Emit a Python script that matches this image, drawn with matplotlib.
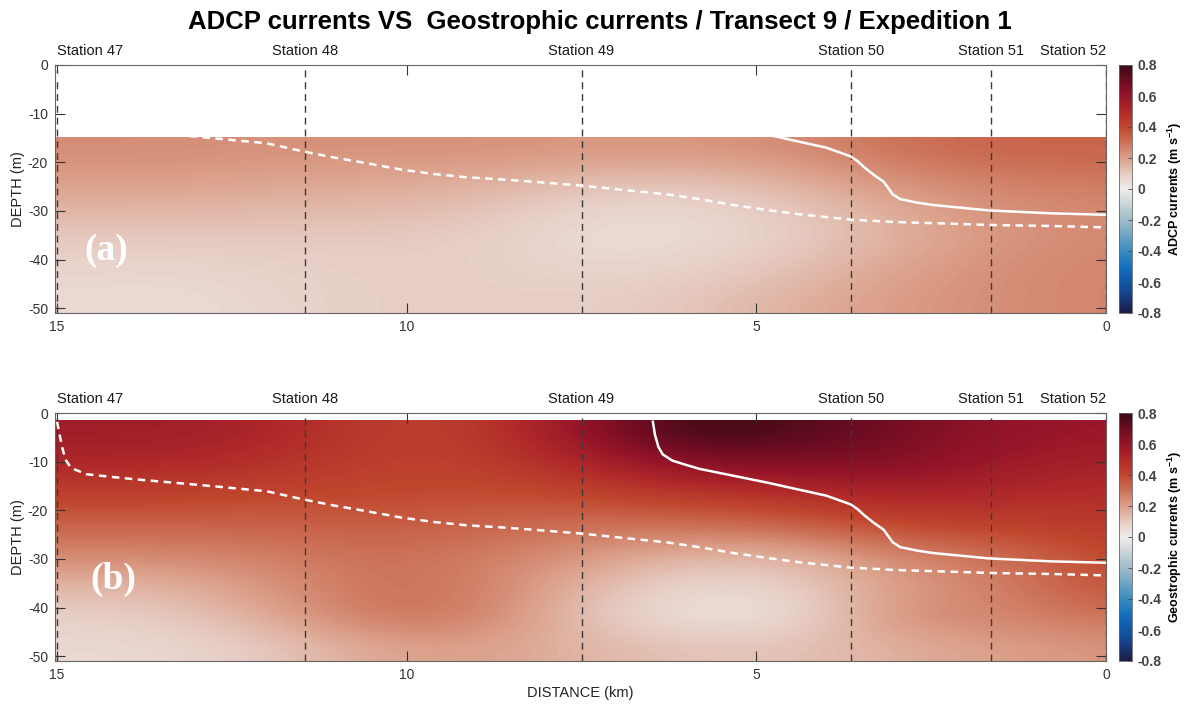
import numpy as np
import matplotlib
matplotlib.use("Agg")
import matplotlib.pyplot as plt
from matplotlib.colors import LinearSegmentedColormap

plt.rcParams["font.family"] = ["Liberation Sans", "DejaVu Sans"]
plt.rcParams["mathtext.fontset"] = "custom"
plt.rcParams["mathtext.rm"] = "Liberation Sans"
plt.rcParams["mathtext.bf"] = "Liberation Sans:bold"

# ---- data -------------------------------------------------------------
title = "ADCP currents VS  Geostrophic currents / Transect 9 / Expedition 1"
station_names = ["Station 47", "Station 48", "Station 49", "Station 50", "Station 51", "Station 52"]
station_km = [15.0, 11.45, 7.5, 3.65, 1.65, 0.0]

# grid columns (km) shared by both sections
distance_cols = [15, 13.5, 12, 10.5, 9, 7.5, 6, 4.5, 3, 1.5, 0]

# ADCP section: rows from -15 m down to -51 m
adcp_top, adcp_bottom = -15.0, -51.0
adcp = [
    [0.24, 0.24, 0.23, 0.23, 0.23, 0.22, 0.22, 0.24, 0.30, 0.33, 0.33],
    [0.20, 0.20, 0.19, 0.18, 0.17, 0.13, 0.12, 0.16, 0.23, 0.27, 0.28],
    [0.15, 0.15, 0.14, 0.14, 0.12, 0.07, 0.06, 0.10, 0.17, 0.23, 0.25],
    [0.10, 0.10, 0.10, 0.10, 0.09, 0.05, 0.05, 0.09, 0.16, 0.22, 0.25],
    [0.07, 0.07, 0.08, 0.09, 0.09, 0.07, 0.08, 0.12, 0.19, 0.24, 0.26],
    [0.06, 0.05, 0.07, 0.09, 0.09, 0.09, 0.11, 0.16, 0.21, 0.24, 0.26],
]

# geostrophic section: rows from -1.6 m down to -51 m
geo_top, geo_bottom = -1.6, -51.0
geo = [
    [0.56, 0.56, 0.52, 0.43, 0.43, 0.60, 0.80, 0.76, 0.68, 0.60, 0.58],
    [0.50, 0.50, 0.47, 0.42, 0.42, 0.50, 0.62, 0.64, 0.64, 0.57, 0.53],
    [0.42, 0.42, 0.40, 0.40, 0.38, 0.40, 0.44, 0.47, 0.52, 0.50, 0.48],
    [0.33, 0.33, 0.33, 0.35, 0.33, 0.30, 0.30, 0.33, 0.40, 0.42, 0.44],
    [0.25, 0.25, 0.27, 0.30, 0.28, 0.22, 0.15, 0.15, 0.25, 0.30, 0.40],
    [0.15, 0.15, 0.22, 0.30, 0.28, 0.15, 0.06, 0.08, 0.20, 0.26, 0.38],
    [0.08, 0.10, 0.17, 0.30, 0.28, 0.12, 0.03, 0.04, 0.24, 0.26, 0.30],
    [0.06, 0.06, 0.10, 0.18, 0.20, 0.15, 0.12, 0.12, 0.16, 0.20, 0.22],
]

# solid white contour
solid_km = [6.48, 6.45, 6.40, 6.34, 6.20, 6.00, 5.81, 5.33, 4.85, 4.38, 4.00,
            3.65, 3.55, 3.46, 3.32, 3.18, 3.12, 3.05, 2.94, 2.70, 2.47, 1.68, 0.80, 0.00]
solid_depth = [-1.8, -4.5, -7.0, -8.5, -9.8, -10.7, -11.5, -12.9, -14.3, -15.8, -17.0,
               -18.8, -19.8, -21.0, -22.6, -24.0, -25.2, -26.6, -27.6, -28.3, -28.8,
               -29.9, -30.5, -30.8]

# dashed white contour
dashed_km = [15.0, 14.97, 14.93, 14.88, 14.80, 14.58, 13.91, 12.96, 12.0, 11.47, 11.05,
             10.57, 10.08, 9.62, 9.14, 8.67, 8.19, 7.50, 6.76, 6.28, 5.81, 5.33, 4.85,
             4.38, 3.65, 3.00, 2.30, 1.65, 0.80, 0.00]
dashed_depth = [-1.8, -4.0, -6.9, -9.6, -11.3, -12.6, -13.6, -14.8, -16.1, -17.8, -19.0,
                -20.2, -21.5, -22.4, -23.1, -23.5, -24.0, -24.8, -25.9, -26.6, -27.6,
                -28.8, -29.8, -30.7, -31.8, -32.3, -32.6, -32.9, -33.1, -33.4]

cbar_ticks = [-0.8, -0.6, -0.4, -0.2, 0.0, 0.2, 0.4, 0.6, 0.8]
cbar_ticklabels = ["-0.8", "-0.6", "-0.4", "-0.2", "0", "0.2", "0.4", "0.6", "0.8"]
x_ticks = [15, 10, 5, 0]
y_ticks = [0, -10, -20, -30, -40, -50]

# diverging red/blue colour ramp
cmap = LinearSegmentedColormap.from_list("redblue", [
    (0.0000, "#1a1c46"), (0.0625, "#183c80"), (0.125, "#1058a8"), (0.1875, "#1470be"),
    (0.2500, "#3a8cc0"), (0.3125, "#6ea4c4"), (0.375, "#a0bcc8"), (0.4375, "#c8d4d8"),
    (0.5000, "#f0ecea"), (0.5625, "#e6cbc2"), (0.625, "#dba08a"), (0.6875, "#cc7258"),
    (0.7500, "#c0472e"), (0.8125, "#b02a2a"), (0.875, "#961428"), (0.9375, "#6e0c22"),
    (1.0000, "#3c0a14"),
])

# ---- figure -----------------------------------------------------------
W, H = 1186, 706
fig = plt.figure(figsize=(W / 100, H / 100), dpi=100)

def frac(px_left, px_top, px_right, px_bottom):
    return [px_left / W, 1 - px_bottom / H, (px_right - px_left) / W, (px_bottom - px_top) / H]

panels = [
    dict(rect=frac(55, 65, 1106, 313), cbar=frac(1119, 65, 1132, 313), field=adcp,
         top=adcp_top, bottom=adcp_bottom, cbar_label=r"ADCP currents (m s$^{\mathbf{-1}}$)",
         tag="(a)", tag_pos=(14.3, -38.2), xlabel=False),
    dict(rect=frac(55, 413, 1106, 661), cbar=frac(1119, 413, 1132, 661), field=geo,
         top=geo_top, bottom=geo_bottom, cbar_label=r"Geostrophic currents (m s$^{\mathbf{-1}}$)",
         tag="(b)", tag_pos=(14.2, -34.3), xlabel=True),
]

step = distance_cols[0] - distance_cols[1]
x_left = distance_cols[0] + step / 2
x_right = distance_cols[-1] - step / 2

for p in panels:
    ax = fig.add_axes(p["rect"])
    im = ax.imshow(np.array(p["field"]), cmap=cmap, vmin=-0.8, vmax=0.8,
                   extent=(x_left, x_right, p["bottom"], p["top"]), origin="upper",
                   aspect="auto", interpolation="bicubic")
    ax.set_xlim(15.03, 0)
    ax.set_ylim(-51, 0)

    for xs in station_km:
        ax.axvline(xs, color="#3a3a3a", lw=1.0, dashes=(5, 3.5), zorder=3)

    ax.plot(solid_km, solid_depth, color="white", lw=1.8, zorder=4)
    ax.plot(dashed_km, dashed_depth, color="white", lw=1.8, dashes=(3.0, 2.2), zorder=4)

    ax.text(p["tag_pos"][0], p["tag_pos"][1], p["tag"], color="white", fontsize=27,
            fontweight="bold", family="Liberation Serif", ha="center", va="center", zorder=5)

    for name, xs in zip(station_names, station_km):
        ha = "center"
        if xs == station_km[0]:
            ha = "left"
        elif xs == station_km[-1]:
            ha = "right"
        ax.text(xs, 1.03, name, transform=ax.get_xaxis_transform(), ha=ha, va="bottom",
                fontsize=10.5, color="#1a1a1a")

    ax.set_xticks(x_ticks)
    ax.set_xticklabels([str(v) for v in x_ticks])
    ax.set_yticks(y_ticks)
    ax.set_yticklabels([str(v) for v in y_ticks])
    ax.tick_params(direction="in", length=7, width=0.8, top=True, right=True,
                   labelsize=10, colors="#333333", pad=5)
    for s in ax.spines.values():
        s.set_color("#666666")
        s.set_linewidth(0.8)
    ax.set_ylabel("DEPTH (m)", fontsize=10.5, color="#222222", labelpad=2)
    if p["xlabel"]:
        ax.set_xlabel("DISTANCE (km)", fontsize=10.5, color="#222222", labelpad=3)

    cax = fig.add_axes(p["cbar"])
    cb = fig.colorbar(im, cax=cax, ticks=cbar_ticks)
    cb.ax.set_yticklabels(cbar_ticklabels, fontweight="bold", fontsize=10)
    cb.ax.tick_params(direction="in", length=3, width=0.6, colors="#444444", pad=4)
    cb.outline.set_edgecolor("#666666")
    cb.outline.set_linewidth(0.6)
    cb.set_label(p["cbar_label"], fontsize=9, fontweight="bold", labelpad=3)

fig.text(600 / W, 1 - 22 / H, title, ha="center", va="center", fontsize=18.5,
         fontweight="bold", color="black")

fig.savefig("out.png", dpi=100)
